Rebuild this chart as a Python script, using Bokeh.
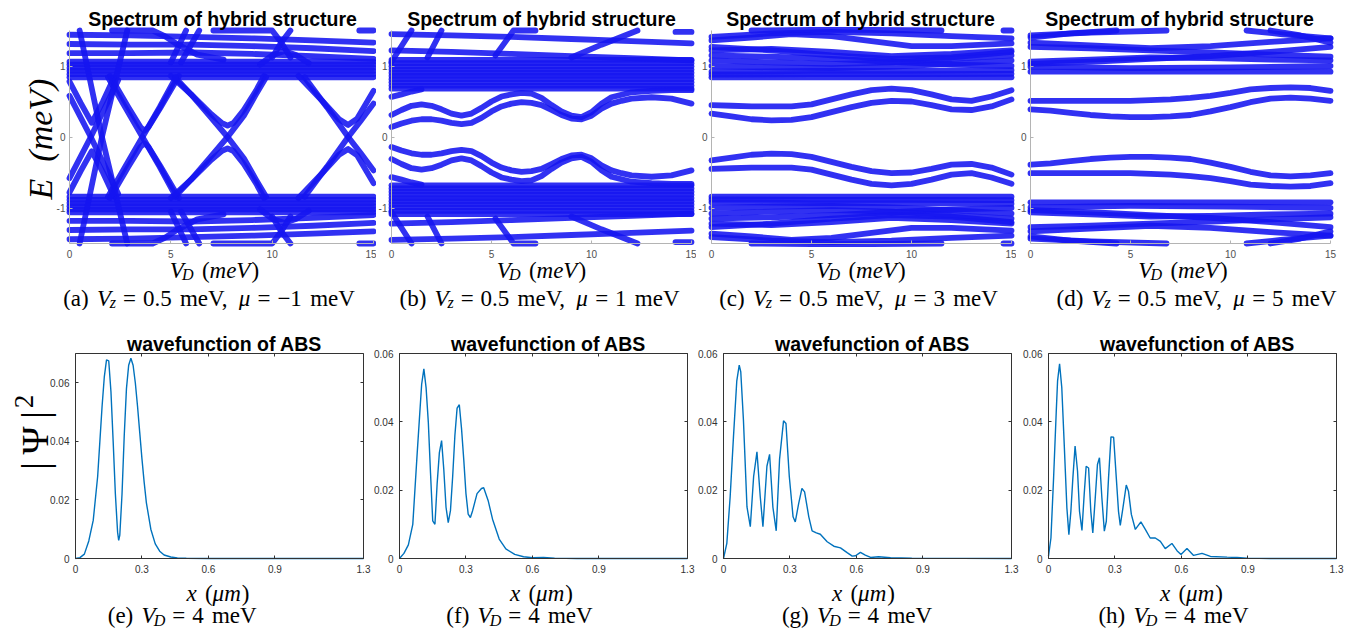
import math
from bokeh.plotting import figure
from bokeh.models import Label, Range1d, FixedTicker, LinearAxis
from bokeh.layouts import row, column
from bokeh.embed import file_html
from bokeh.resources import INLINE

SERIF = "Liberation Serif"
SANS = "Liberation Sans"
BLUE = "#1515f0"
BLUE_ALPHA = 0.88
BAND_W = 5.8
WAVE = "#0072bd"

# ---------------- spectrum data (V_D in meV, E in meV) ----------------
VD_RANGE = [0, 15]
E_RANGE = [-1.5, 1.5]

A_LEVELS = [0.84, 0.885, 0.93, 0.975, 1.02, 1.06, -0.84, -0.885, -0.93, -0.975, -1.02, -1.06]
A_UP = [
    ([0, 3, 6, 9, 12, 15], [1.44, 1.43, 1.41, 1.39, 1.36, 1.33]),
    ([0, 3, 6, 9, 12, 15], [1.31, 1.30, 1.30, 1.28, 1.25, 1.21]),
    ([0, 3, 6, 9, 12, 15], [1.18, 1.18, 1.19, 1.17, 1.14, 1.10]),
    ([2.1, 3.1, 4.1, 4.7, 5.35, 6.3, 7.6], [1.5, 1.5, 1.5, 1.42, 1.30, 1.16, 1.09]),
    ([7.1, 8.5, 10.0, 10.45, 10.9], [1.5, 1.5, 1.5, 1.33, 1.12]),
    ([10.0, 10.45, 10.9], [1.12, 1.33, 1.5]),
    ([9.4, 10.0, 10.6, 11.2, 11.8], [1.02, 1.15, 1.21, 1.15, 1.04]),
    ([14.3, 15], [1.5, 1.5]),
    ([5.0, 5.75], [1.05, 1.5]),
    ([5.5, 6.4], [1.05, 1.5]),
    ([0.5, 1.6, 2.85], [1.5, 0.0, -1.5]),
    ([0, 1.05, 2.4], [0.58, 0.0, -0.80]),
    ([0, 0.55, 1.1, 1.65, 2.2], [0.78, 0.48, 0.2, 0.5, 0.84]),
    ([1.9, 2.75, 3.6, 4.45, 5.25], [0.84, 0.42, 0.0, -0.42, -0.84]),
    ([2.0, 2.9, 3.5, 3.7, 3.9, 4.5, 5.4], [0.86, 0.42, 0.14, 0.09, 0.14, 0.42, 0.86]),
    ([5.2, 6.0, 6.9, 7.8, 8.6, 9.2, 9.7], [0.84, 0.6, 0.3, 0.0, -0.3, -0.6, -0.84]),
    ([5.0, 6.0, 7.0, 7.5, 7.8, 8.1, 8.6, 9.2, 9.6], [0.86, 0.6, 0.32, 0.2, 0.16, 0.2, 0.38, 0.65, 0.86]),
    ([11.6, 12.7, 13.75, 14.4, 15], [0.84, 0.42, 0.0, -0.24, -0.47]),
    ([11.3, 12.5, 13.3, 13.75, 14.2, 15], [0.86, 0.5, 0.25, 0.17, 0.26, 0.65]),
]
A_DN = [
    ([0, 3, 6, 9, 12, 15], [-1.44, -1.43, -1.41, -1.39, -1.36, -1.33]),
    ([0, 3, 6, 9, 12, 15], [-1.31, -1.30, -1.30, -1.28, -1.25, -1.21]),
    ([0, 3, 6, 9, 12, 15], [-1.18, -1.18, -1.19, -1.17, -1.14, -1.10]),
    ([2.1, 3.1, 4.1, 4.7, 5.35, 6.3, 7.6], [-1.5, -1.5, -1.5, -1.42, -1.30, -1.16, -1.09]),
    ([7.1, 8.5, 10.0, 10.45, 10.9], [-1.5, -1.5, -1.5, -1.33, -1.12]),
    ([10.0, 10.45, 10.9], [-1.12, -1.33, -1.5]),
    ([9.4, 10.0, 10.6, 11.2, 11.8], [-1.02, -1.15, -1.21, -1.15, -1.04]),
    ([14.3, 15], [-1.5, -1.5]),
    ([5.0, 5.75], [-1.05, -1.5]),
    ([5.5, 6.4], [-1.05, -1.5]),
    ([0.5, 1.6, 2.85], [-1.5, 0.0, 1.5]),
    ([0, 1.05, 2.4], [-0.58, 0.0, 0.80]),
    ([0, 0.55, 1.1, 1.65, 2.2], [-0.78, -0.48, -0.2, -0.5, -0.84]),
    ([1.9, 2.75, 3.6, 4.45, 5.25], [-0.84, -0.42, 0.0, 0.42, 0.84]),
    ([2.0, 2.9, 3.5, 3.7, 3.9, 4.5, 5.4], [-0.86, -0.42, -0.14, -0.09, -0.14, -0.42, -0.86]),
    ([5.2, 6.0, 6.9, 7.8, 8.6, 9.2, 9.7], [-0.84, -0.6, -0.3, 0.0, 0.3, 0.6, 0.84]),
    ([5.0, 6.0, 7.0, 7.5, 7.8, 8.1, 8.6, 9.2, 9.6], [-0.86, -0.6, -0.32, -0.2, -0.16, -0.2, -0.38, -0.65, -0.86]),
    ([11.6, 12.7, 13.75, 14.4, 15], [-0.84, -0.42, 0.0, 0.24, 0.47]),
    ([11.3, 12.5, 13.3, 13.75, 14.2, 15], [-0.86, -0.5, -0.25, -0.17, -0.26, -0.65]),
]

B_LEVELS = [0.68, 0.725, 0.77, 0.815, 0.86, 0.905, 0.95, 0.995, 1.04, 1.085,
            -0.68, -0.725, -0.77, -0.815, -0.86, -0.905, -0.95, -0.995, -1.04, -1.085]
B_G_VD1 = [0, 0.5, 1, 1.5, 2, 2.5, 3, 3.5, 4, 4.5, 5, 5.5, 6, 6.5, 7, 7.5, 8, 8.5, 9, 9.5, 10, 10.5, 11, 11.5, 12, 13, 14, 15]
B_G_E1 = [0.14, 0.19, 0.23, 0.25, 0.25, 0.23, 0.2, 0.18, 0.2, 0.27, 0.36, 0.43, 0.47, 0.49, 0.48, 0.45, 0.38, 0.31, 0.26, 0.25, 0.3, 0.4, 0.47, 0.51, 0.54, 0.56, 0.54, 0.47]
B_G_VD2 = [0, 0.5, 1, 1.5, 2, 2.5, 3, 3.5, 4, 4.5, 5, 5.5, 6, 6.5, 7, 7.5, 8, 8.5, 9, 9.5, 10, 10.5, 11, 12, 13, 14, 15]
B_G_E2 = [0.31, 0.38, 0.44, 0.46, 0.44, 0.39, 0.33, 0.3, 0.33, 0.41, 0.5, 0.57, 0.6, 0.62, 0.61, 0.55, 0.45, 0.36, 0.3, 0.28, 0.35, 0.47, 0.56, 0.63, 0.65, 0.66, 0.66]
B_G_E1_DN = [-0.14, -0.19, -0.23, -0.25, -0.25, -0.23, -0.2, -0.18, -0.2, -0.27, -0.36, -0.43, -0.47, -0.49, -0.48, -0.45, -0.38, -0.31, -0.26, -0.25, -0.3, -0.4, -0.47, -0.51, -0.54, -0.56, -0.54, -0.47]
B_G_E2_DN = [-0.31, -0.38, -0.44, -0.46, -0.44, -0.39, -0.33, -0.3, -0.33, -0.41, -0.5, -0.57, -0.6, -0.62, -0.61, -0.55, -0.45, -0.36, -0.3, -0.28, -0.35, -0.47, -0.56, -0.63, -0.65, -0.66, -0.66]
B_UP = [
    ([0, 3, 6, 9, 12, 15], [1.45, 1.43, 1.41, 1.38, 1.35, 1.32]),
    ([0, 3, 6, 9, 12, 15], [1.22, 1.20, 1.17, 1.14, 1.11, 1.08]),
    ([0, 1.0], [1.06, 1.5]),
    ([1.8, 2.5], [1.12, 1.5]),
    ([5.2, 6.1, 7.2], [1.15, 1.5, 1.5]),
    ([9.0, 10.5, 12.3], [1.12, 1.3, 1.5]),
    ([14.2, 15], [1.48, 1.48]),
    ([0, 0.5, 1.0, 1.5], [0.565, 0.6, 0.64, 0.67]),
    (B_G_VD1, B_G_E1),
    (B_G_VD2, B_G_E2),
]
B_DN = [
    ([0, 3, 6, 9, 12, 15], [-1.45, -1.43, -1.41, -1.38, -1.35, -1.32]),
    ([0, 3, 6, 9, 12, 15], [-1.22, -1.20, -1.17, -1.14, -1.11, -1.08]),
    ([0, 1.0], [-1.06, -1.5]),
    ([1.8, 2.5], [-1.12, -1.5]),
    ([5.2, 6.1, 7.2], [-1.15, -1.5, -1.5]),
    ([9.0, 10.5, 12.3], [-1.12, -1.3, -1.5]),
    ([14.2, 15], [-1.48, -1.48]),
    ([0, 0.5, 1.0, 1.5], [-0.565, -0.6, -0.64, -0.67]),
    (B_G_VD1, B_G_E1_DN),
    (B_G_VD2, B_G_E2_DN),
]

C_VD = [0, 1, 2, 3, 4, 5, 6, 7, 8, 9, 10, 11, 12, 13, 14, 15]
C_H1 = [0.33, 0.29, 0.25, 0.235, 0.24, 0.28, 0.35, 0.42, 0.48, 0.51, 0.5, 0.45, 0.39, 0.38, 0.43, 0.53]
C_H2 = [0.45, 0.44, 0.43, 0.43, 0.43, 0.46, 0.53, 0.6, 0.66, 0.68, 0.66, 0.6, 0.53, 0.51, 0.57, 0.66]
C_H1_DN = [-0.33, -0.29, -0.25, -0.235, -0.24, -0.28, -0.35, -0.42, -0.48, -0.51, -0.5, -0.45, -0.39, -0.38, -0.43, -0.53]
C_H2_DN = [-0.45, -0.44, -0.43, -0.43, -0.43, -0.46, -0.53, -0.6, -0.66, -0.68, -0.66, -0.6, -0.53, -0.51, -0.57, -0.66]
C_LEVELS = [0.84, -0.84]
C_UP = [
    ([0, 5, 10, 15], [0.88, 0.885, 0.885, 0.89]),
    ([0, 5, 10, 15], [0.92, 0.93, 0.93, 0.94]),
    ([0, 3, 6, 9, 12, 15], [1.0, 0.98, 0.97, 0.99, 1.03, 1.08]),
    ([0, 3, 6, 9, 12, 15], [1.08, 1.05, 1.03, 1.05, 1.10, 1.15]),
    ([0, 3, 6, 9, 12, 15], [1.15, 1.13, 1.10, 1.06, 1.02, 1.0]),
    ([0, 3, 6, 9, 12, 15], [1.22, 1.24, 1.20, 1.14, 1.17, 1.22]),
    ([0, 3, 6, 9, 12, 15], [1.27, 1.22, 1.15, 1.10, 1.12, 1.20]),
    ([0, 2, 4, 6, 8, 10, 12, 15], [1.36, 1.40, 1.45, 1.42, 1.35, 1.28, 1.28, 1.32]),
    ([0, 3, 6, 9, 12, 15], [1.41, 1.46, 1.48, 1.46, 1.42, 1.39]),
    ([2, 5, 8, 11.5], [1.5, 1.51, 1.51, 1.5]),
    ([14.6, 15], [1.5, 1.5]),
    (C_VD, C_H1),
    (C_VD, C_H2),
]
C_DN = [
    ([0, 5, 10, 15], [-0.88, -0.885, -0.885, -0.89]),
    ([0, 5, 10, 15], [-0.92, -0.93, -0.93, -0.94]),
    ([0, 3, 6, 9, 12, 15], [-1.0, -0.98, -0.97, -0.99, -1.03, -1.08]),
    ([0, 3, 6, 9, 12, 15], [-1.08, -1.05, -1.03, -1.05, -1.10, -1.15]),
    ([0, 3, 6, 9, 12, 15], [-1.15, -1.13, -1.10, -1.06, -1.02, -1.0]),
    ([0, 3, 6, 9, 12, 15], [-1.22, -1.24, -1.20, -1.14, -1.17, -1.22]),
    ([0, 3, 6, 9, 12, 15], [-1.27, -1.22, -1.15, -1.10, -1.12, -1.20]),
    ([0, 2, 4, 6, 8, 10, 12, 15], [-1.36, -1.40, -1.45, -1.42, -1.35, -1.28, -1.28, -1.32]),
    ([0, 3, 6, 9, 12, 15], [-1.41, -1.46, -1.48, -1.46, -1.42, -1.39]),
    ([2, 5, 8, 11.5], [-1.5, -1.51, -1.51, -1.5]),
    ([14.6, 15], [-1.5, -1.5]),
    (C_VD, C_H1_DN),
    (C_VD, C_H2_DN),
]

D_VD = [0, 1, 2, 3, 4, 5, 6, 7, 8, 9, 10, 11, 12, 13, 14, 15]
D_J1 = [0.39, 0.37, 0.34, 0.31, 0.29, 0.28, 0.28, 0.29, 0.31, 0.36, 0.42, 0.49, 0.54, 0.555, 0.54, 0.51]
D_J2 = [0.51, 0.51, 0.51, 0.51, 0.51, 0.51, 0.52, 0.53, 0.55, 0.58, 0.62, 0.67, 0.69, 0.70, 0.69, 0.65]
D_J1_DN = [-0.39, -0.37, -0.34, -0.31, -0.29, -0.28, -0.28, -0.29, -0.31, -0.36, -0.42, -0.49, -0.54, -0.555, -0.54, -0.51]
D_J2_DN = [-0.51, -0.51, -0.51, -0.51, -0.51, -0.51, -0.52, -0.53, -0.55, -0.58, -0.62, -0.67, -0.69, -0.70, -0.69, -0.65]
D_LEVELS = [0.92, -0.92]
D_UP = [
    ([0, 5, 10, 15], [0.99, 0.97, 0.98, 1.0]),
    ([0, 3, 6, 9, 12, 15], [1.03, 1.06, 1.10, 1.14, 1.20, 1.27]),
    ([0, 3, 6, 9, 12, 15], [1.06, 1.09, 1.12, 1.11, 1.09, 1.08]),
    ([0, 3, 6, 9, 12, 15], [1.27, 1.25, 1.22, 1.19, 1.16, 1.13]),
    ([0, 3, 6, 9, 12, 15], [1.33, 1.29, 1.25, 1.28, 1.34, 1.39]),
    ([0, 2, 4.3], [1.40, 1.46, 1.5]),
    ([0, 3, 6.8], [1.43, 1.47, 1.5]),
    ([10.8, 12.5, 15], [1.5, 1.45, 1.39]),
    ([12, 13.5, 15], [1.5, 1.43, 1.33]),
    (D_VD, D_J1),
    (D_VD, D_J2),
]
D_DN = [
    ([0, 5, 10, 15], [-0.99, -0.97, -0.98, -1.0]),
    ([0, 3, 6, 9, 12, 15], [-1.03, -1.06, -1.10, -1.14, -1.20, -1.27]),
    ([0, 3, 6, 9, 12, 15], [-1.06, -1.09, -1.12, -1.11, -1.09, -1.08]),
    ([0, 3, 6, 9, 12, 15], [-1.27, -1.25, -1.22, -1.19, -1.16, -1.13]),
    ([0, 3, 6, 9, 12, 15], [-1.33, -1.29, -1.25, -1.28, -1.34, -1.39]),
    ([0, 2, 4.3], [-1.40, -1.46, -1.5]),
    ([0, 3, 6.8], [-1.43, -1.47, -1.5]),
    ([10.8, 12.5, 15], [-1.5, -1.45, -1.39]),
    ([12, 13.5, 15], [-1.5, -1.43, -1.33]),
    (D_VD, D_J1_DN),
    (D_VD, D_J2_DN),
]

# ---------------- wavefunction data (x in um, |Psi|^2) ----------------
X_RANGE = [0, 1.3]
E_X = [0, 0.02, 0.04, 0.06, 0.08, 0.10, 0.11, 0.12, 0.13, 0.14, 0.15, 0.16, 0.17, 0.18, 0.19, 0.195, 0.20, 0.21, 0.22, 0.23,
       0.24, 0.25, 0.26, 0.27, 0.28, 0.29, 0.30, 0.31, 0.32, 0.34, 0.36, 0.38, 0.40, 0.43, 0.46, 0.50, 0.60, 0.80, 1.00, 1.30]
E_Y = [0, 0.0003, 0.0015, 0.006, 0.013, 0.028, 0.040, 0.052, 0.062, 0.0678, 0.0675, 0.057, 0.040, 0.022, 0.009, 0.0062, 0.008, 0.022, 0.042, 0.058,
       0.066, 0.0684, 0.066, 0.060, 0.052, 0.043, 0.034, 0.026, 0.019, 0.010, 0.005, 0.0025, 0.0012, 0.0005, 0.0002, 0.0001, 0, 0, 0, 0]
F_X = [0, 0.02, 0.04, 0.06, 0.08, 0.09, 0.10, 0.11, 0.12, 0.13, 0.14, 0.15, 0.16, 0.17, 0.18, 0.19, 0.20, 0.21, 0.22, 0.23,
       0.24, 0.25, 0.26, 0.27, 0.28, 0.29, 0.30, 0.31, 0.32, 0.33, 0.35, 0.37, 0.38, 0.40, 0.42, 0.45, 0.48, 0.52, 0.56, 0.60,
       0.65, 0.70, 0.80, 1.30]
F_Y = [0, 0.0015, 0.004, 0.010, 0.031, 0.041, 0.051, 0.0555, 0.050, 0.040, 0.025, 0.011, 0.010, 0.022, 0.031, 0.0345, 0.026, 0.015, 0.0105, 0.014,
       0.024, 0.036, 0.044, 0.045, 0.038, 0.029, 0.019, 0.013, 0.012, 0.014, 0.019, 0.0205, 0.0207, 0.017, 0.0115, 0.0057, 0.0028, 0.0012, 0.0005, 0.0002,
       0.0003, 0.0001, 0, 0]
G_X = [0, 0.015, 0.03, 0.045, 0.06, 0.071, 0.078, 0.09, 0.106, 0.121, 0.136, 0.151, 0.166, 0.178, 0.196, 0.208, 0.223, 0.238, 0.253, 0.271,
       0.282, 0.297, 0.314, 0.324, 0.339, 0.354, 0.366, 0.385, 0.40, 0.419, 0.437, 0.468, 0.498, 0.528, 0.558, 0.581, 0.596, 0.618, 0.64, 0.664,
       0.70, 0.754, 0.85, 1.3]
G_Y = [0, 0.0044, 0.018, 0.0356, 0.052, 0.0566, 0.0546, 0.0405, 0.0151, 0.0093, 0.024, 0.0312, 0.018, 0.0093, 0.027, 0.0305, 0.015, 0.0081, 0.029, 0.0403,
       0.0395, 0.024, 0.0122, 0.0107, 0.016, 0.0205, 0.0195, 0.0122, 0.0081, 0.0075, 0.0071, 0.0049, 0.0036, 0.0031, 0.0017, 0.0007, 0.0008, 0.0018, 0.001, 0.0003,
       0.0005, 0.0002, 0.0001, 0]
H_X = [0, 0.011, 0.023, 0.035, 0.041, 0.05, 0.06, 0.071, 0.083, 0.092, 0.101, 0.11, 0.12, 0.131, 0.14, 0.151, 0.161, 0.17, 0.181, 0.191,
       0.2, 0.211, 0.221, 0.23, 0.241, 0.252, 0.261, 0.271, 0.282, 0.294, 0.306, 0.316, 0.324, 0.336, 0.351, 0.361, 0.374, 0.392, 0.417, 0.437,
       0.459, 0.482, 0.505, 0.527, 0.557, 0.58, 0.598, 0.625, 0.655, 0.693, 0.731, 0.806, 0.851, 0.896, 1.0, 1.3]
H_Y = [0.0007, 0.006, 0.0236, 0.043, 0.052, 0.057, 0.050, 0.0334, 0.0148, 0.007, 0.0138, 0.0236, 0.0329, 0.0256, 0.0138, 0.0082, 0.0187, 0.027, 0.0265, 0.0138,
       0.0075, 0.0177, 0.0275, 0.0295, 0.0177, 0.008, 0.0109, 0.0236, 0.0356, 0.0355, 0.0236, 0.0138, 0.0097, 0.0148, 0.0215, 0.0197, 0.0129, 0.0085, 0.0107, 0.0085,
       0.006, 0.006, 0.005, 0.0029, 0.0044, 0.0023, 0.0012, 0.0029, 0.0009, 0.0015, 0.0006, 0.0004, 0.0003, 0.0001, 0.0, 0.0]

SPEC_XTICKS = [0, 5, 10, 15]
SPEC_YTICKS = [-1, 0, 1]
WAVE_XTICKS = [0, 0.3, 0.6, 0.9, 1.3]
WAVE_YTICKS = [0, 0.02, 0.04, 0.06]

# ---------------- text helpers ----------------
TR = {' ': 250, '(': 333, ')': 333, 'a': 444, 'b': 500, 'c': 444, 'd': 500, 'e': 444, 'f': 333, 'g': 500,
      'h': 500, 'm': 778, 'V': 722, 'D': 722, '=': 564, '0': 500, '1': 500, '3': 500, '4': 500, '5': 500,
      '.': 250, ',': 250, '\u2212': 564, '\u03bc': 520, 'x': 500, 'z': 444}
TI = {'V': 611, 'D': 722, 'z': 389, 'x': 444, 'm': 722, 'e': 444, '\u03bc': 520, 'E': 611, '(': 333, ')': 333}
GAP = 0.36
THICK = 0.30


def rich(p, pieces, cx, y, size):
    items = []
    x = 0.0
    for t, st in pieces:
        if st == 'gap':
            x += t * size
            continue
        fs = size * 0.7 if st == 's' else size
        tbl = TR if st == 'r' else TI
        w = sum(tbl.get(ch, 500) for ch in t) / 1000.0 * fs
        items.append((t, st, x, fs))
        x += w
    x0 = cx - x / 2.0
    for t, st, xx, fs in items:
        dy = -0.2 * size if st == 's' else 0
        p.add_layout(Label(x=x0 + xx, y=y + dy, x_units='screen', y_units='screen', text=t,
                           text_font=SERIF, text_font_size=f"{fs:.1f}px",
                           text_font_style='normal' if st == 'r' else 'italic',
                           text_align='left', text_baseline='alphabetic', text_color='black'))


def vd_label(p, cx, y):
    rich(p, [("V", 'i'), (-0.08, 'gap'), ("D", 's'), (GAP, 'gap'), ("(", 'r'), ("meV", 'i'), (0.05, 'gap'), (")", 'r')], cx, y, 23)


def spec_caption(p, letter, mu, cx, y):
    rich(p, [("(" + letter + ")", 'r'), (GAP, 'gap'), ("V", 'i'), (-0.05, 'gap'), ("z", 's'), (THICK, 'gap'), ("=", 'r'), (THICK, 'gap'),
             ("0.5", 'r'), (GAP, 'gap'), ("meV,", 'r'), (GAP, 'gap'), ("\u03bc", 'i'), (THICK, 'gap'), ("=", 'r'), (THICK, 'gap'),
             (mu, 'r'), (GAP, 'gap'), ("meV", 'r')], cx, y, 23)


def wave_caption(p, letter, cx, y):
    rich(p, [("(" + letter + ")", 'r'), (GAP, 'gap'), ("V", 'i'), (-0.08, 'gap'), ("D", 's'), (THICK, 'gap'), ("=", 'r'), (THICK, 'gap'),
             ("4", 'r'), (GAP, 'gap'), ("meV", 'r')], cx, y, 23)


def x_label(p, cx, y):
    rich(p, [("x", 'i'), (GAP, 'gap'), ("(", 'r'), ("\u03bcm", 'i'), (0.03, 'gap'), (")", 'r')], cx, y, 23)


def style_axis(ax, color, labcol, standoff):
    ax.axis_line_color = color
    ax.major_tick_line_color = color
    ax.major_tick_in = 3
    ax.major_tick_out = 0
    ax.minor_tick_line_color = None
    ax.major_label_text_font = SANS
    ax.major_label_text_font_size = "10px"
    ax.major_label_text_color = labcol
    ax.major_label_standoff = standoff


def canvas_fig(canvas, box, xr, yr):
    """canvas/box: (left, top, right, bottom) in page px; box is where xr x yr is drawn."""
    W = canvas[2] - canvas[0]
    H = canvas[3] - canvas[1]
    sx = (box[2] - box[0]) / (xr[1] - xr[0])
    sy = (box[3] - box[1]) / (yr[1] - yr[0])
    x0 = xr[0] - (box[0] - canvas[0]) / sx
    x1 = xr[1] + (canvas[2] - box[2]) / sx
    y0 = yr[0] - (canvas[3] - box[3]) / sy
    y1 = yr[1] + (box[1] - canvas[1]) / sy
    p = figure(width=W, height=H, frame_width=W, frame_height=H,
               x_range=Range1d(x0, x1), y_range=Range1d(y0, y1),
               min_border_left=0, min_border_right=0, min_border_top=0, min_border_bottom=0,
               output_backend="svg", toolbar_location=None, title=None)
    p.xgrid.visible = False
    p.ygrid.visible = False
    p.outline_line_color = None
    p.background_fill_color = "white"
    p.border_fill_color = "white"
    p.xaxis.fixed_location = yr[0]
    p.xaxis.bounds = (xr[0], xr[1])
    p.yaxis.fixed_location = xr[0]
    p.yaxis.bounds = (yr[0], yr[1])
    return p


def spectrum(canvas, box, levels, up, dn, title_cx, xl_cx, cap_cx, letter, mu):
    p = canvas_fig(canvas, box, VD_RANGE, E_RANGE)
    style_axis(p.xaxis[0], "#b4b4b4", "#505050", 6)
    style_axis(p.yaxis[0], "#b4b4b4", "#505050", 4)
    p.xaxis.ticker = FixedTicker(ticks=SPEC_XTICKS)
    p.yaxis.ticker = FixedTicker(ticks=SPEC_YTICKS)
    p.yaxis.major_label_overrides = {-1: "-1", 0: "0", 1: "1"}
    xs = [[VD_RANGE[0], VD_RANGE[1]] for _ in levels]
    ys = [[e, e] for e in levels]
    p.multi_line(xs, ys, line_width=BAND_W, line_color=BLUE, line_alpha=BLUE_ALPHA, line_cap="round")
    cx = [c[0] for c in up + dn]
    cy = [c[1] for c in up + dn]
    p.multi_line(cx, cy, line_width=BAND_W, line_color=BLUE, line_alpha=BLUE_ALPHA, line_cap="round", line_join="round")
    L, T, R, B = canvas
    p.add_layout(Label(x=title_cx - L, y=B - 18.3, x_units='screen', y_units='screen', text="Spectrum of hybrid structure",
                       text_font=SANS, text_font_style='bold', text_font_size='19.5px',
                       text_align='center', text_baseline='alphabetic', text_color='black'))
    vd_label(p, xl_cx - L, B - 269.5)
    spec_caption(p, letter, mu, cap_cx - L, B - 297.7)
    return p


def wave(canvas, box, xv, yv, ymax, title_cx, xl_cx, cap_cx, letter):
    p = canvas_fig(canvas, box, X_RANGE, [0, ymax])
    style_axis(p.xaxis[0], "#333333", "#333333", 6)
    style_axis(p.yaxis[0], "#333333", "#333333", 6)
    p.xaxis.ticker = FixedTicker(ticks=WAVE_XTICKS)
    p.yaxis.ticker = FixedTicker(ticks=WAVE_YTICKS)
    p.xaxis.major_label_overrides = {0: "0", 0.3: "0.3", 0.6: "0.6", 0.9: "0.9", 1.3: "1.3"}
    p.yaxis.major_label_overrides = {0: "0", 0.02: "0.02", 0.04: "0.04", 0.06: "0.06"}
    for loc, tk, fl, bd in (("right", WAVE_YTICKS, X_RANGE[1], (0, ymax)), ("above", WAVE_XTICKS, ymax, (X_RANGE[0], X_RANGE[1]))):
        ax = LinearAxis(ticker=FixedTicker(ticks=tk), fixed_location=fl, bounds=bd)
        style_axis(ax, "#333333", None, 0)
        p.add_layout(ax, loc)
    p.line(xv, yv, line_width=1.4, line_color=WAVE)
    L, T, R, B = canvas
    p.add_layout(Label(x=title_cx - L, y=B - 343.3, x_units='screen', y_units='screen', text="wavefunction of ABS",
                       text_font=SANS, text_font_style='bold', text_font_size='19.5px',
                       text_align='center', text_baseline='alphabetic', text_color='black'))
    x_label(p, xl_cx - L, B - 592.7)
    wave_caption(p, letter, cap_cx - L, B - 615)
    return p


TOP, MID, BOT = 0, 310, 628
pa = spectrum((0, TOP, 376, MID), (69, 30, 373, 243), A_LEVELS, A_UP, A_DN, 222, 214, 208.5, "a", "\u22121")
pb = spectrum((376, TOP, 696, MID), (391, 30, 691, 243), B_LEVELS, B_UP, B_DN, 541, 541, 539, "b", "1")
pc = spectrum((696, TOP, 1016, MID), (711, 30, 1011, 243), C_LEVELS, C_UP, C_DN, 860, 860.5, 858, "c", "3")
pd = spectrum((1016, TOP, 1365, MID), (1030, 30, 1330, 243), D_LEVELS, D_UP, D_DN, 1179, 1182.5, 1196, "d", "5")
pa.add_layout(Label(x=40, y=MID - 138.5, x_units='screen', y_units='screen', text="E\u2002(meV)", angle=math.pi / 2,
                    text_font=SERIF, text_font_style='italic', text_font_size='34px',
                    text_align='center', text_baseline='middle', text_color='black'))

pe = wave((0, MID, 373, BOT), (75, 353, 363, 558), E_X, E_Y, 0.07, 224, 217.5, 181.7, "e")
pf = wave((373, MID, 695, BOT), (399, 353, 687, 558), F_X, F_Y, 0.06, 548, 541, 519, "f")
pg = wave((695, MID, 1021, BOT), (723, 353, 1011, 558), G_X, G_Y, 0.06, 872, 863, 856.5, "g")
ph = wave((1021, MID, 1365, BOT), (1048, 353, 1336, 558), H_X, H_Y, 0.06, 1197, 1191, 1173, "h")
pe.add_layout(Label(x=34, y=BOT - 440, x_units='screen', y_units='screen', text="|\u2009\u03a8\u2009|", angle=math.pi / 2,
                    text_font=SERIF, text_font_size='38px',
                    text_align='center', text_baseline='middle', text_color='black'))
pe.add_layout(Label(x=23, y=BOT - 401, x_units='screen', y_units='screen', text="2", angle=math.pi / 2,
                    text_font=SERIF, text_font_size='27px',
                    text_align='center', text_baseline='middle', text_color='black'))

layout = column(row(pa, pb, pc, pd), row(pe, pf, pg, ph))
open("out.html", "w").write(file_html(layout, INLINE))
